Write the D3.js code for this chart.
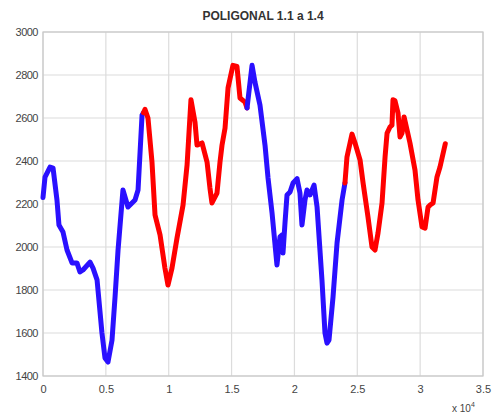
<!DOCTYPE html>
<html>
<head>
<meta charset="utf-8">
<script src="https://cdn.jsdelivr.net/npm/d3@7"></script>
<style>
  body { margin: 0; background: #fff; }
  text { font-family: "Liberation Sans", Arial, sans-serif; }
</style>
</head>
<body>
<svg id="graph" width="492" height="416"></svg>
<script>
var title = "POLIGONAL 1.1 a 1.4";
var xTicks = [0, 5000, 10000, 15000, 20000, 25000, 30000, 35000];
var xTickLabels = ["0", "0.5", "1", "1.5", "2", "2.5", "3", "3.5"];
var yTicks = [1400, 1600, 1800, 2000, 2200, 2400, 2600, 2800, 3000];

// tramo 1 (azul)
var x1 = [0, 160, 560, 800, 1110, 1270, 1590, 1910, 2310, 2700, 2940, 3180, 3740, 3980, 4300, 4690, 4930, 5170, 5490, 5730, 5970, 6360, 6760, 7320, 7560, 7880, 8000];
var y1 = [2230, 2325, 2372, 2367, 2219, 2102, 2070, 1986, 1926, 1926, 1884, 1893, 1930, 1902, 1847, 1600, 1484, 1465, 1567, 1767, 1986, 2265, 2186, 2219, 2265, 2614, 2625];
// tramo 2 (rojo)
var x2 = [8000, 8110, 8350, 8670, 8910, 9310, 9700, 9940, 10260, 10660, 11140, 11460, 11770, 12090, 12250, 12650, 13050, 13280, 13440, 13840, 14080, 14240, 14480, 14720, 15110, 15430, 15670, 16070, 16230];
var y2 = [2625, 2640, 2600, 2395, 2149, 2056, 1902, 1823, 1902, 2042, 2195, 2381, 2685, 2581, 2474, 2484, 2395, 2274, 2205, 2251, 2395, 2474, 2553, 2740, 2845, 2840, 2693, 2674, 2647];
// tramo 3 (azul)
var x3 = [16230, 16630, 16860, 17260, 17660, 17900, 18220, 18610, 18850, 19010, 19090, 19250, 19410, 19650, 19890, 20210, 20440, 20600, 20840, 21000, 21240, 21560, 21800, 22190, 22430, 22590, 22750, 23070, 23390, 23790, 24020];
var y3 = [2647, 2845, 2767, 2660, 2474, 2321, 2158, 1916, 2047, 2056, 1972, 2112, 2242, 2256, 2298, 2318, 2251, 2102, 2219, 2265, 2242, 2288, 2186, 1847, 1600, 1553, 1567, 1767, 2019, 2219, 2298];
// tramo 4 (rojo)
var x4 = [24020, 24180, 24580, 24820, 25220, 25460, 25850, 26170, 26410, 26650, 26970, 27210, 27370, 27600, 27760, 27840, 28000, 28240, 28400, 28560, 28720, 28960, 29190, 29590, 29830, 30150, 30390, 30630, 30790, 31030, 31340, 31580, 32000];
var y4 = [2298, 2419, 2525, 2484, 2405, 2298, 2140, 2000, 1986, 2065, 2205, 2419, 2530, 2558, 2567, 2685, 2680, 2623, 2512, 2530, 2605, 2544, 2484, 2358, 2219, 2093, 2088, 2186, 2195, 2205, 2326, 2372, 2480];

var tramos = [
  {x: x1, y: y1, color: "#2a10ff"},
  {x: x2, y: y2, color: "#ff0000"},
  {x: x3, y: y3, color: "#2a10ff"},
  {x: x4, y: y4, color: "#ff0000"}
];

var mLeft = 43, mRight = 483, mTop = 32, mBottom = 376;
var xScale = d3.scaleLinear().domain([0, 35000]).range([mLeft, mRight]);
var yScale = d3.scaleLinear().domain([1400, 3000]).range([mBottom, mTop]);

var svg = d3.select("svg#graph");

// rejilla
svg.append("g")
   .selectAll("line.xgrid")
   .data(xTicks)
   .enter()
   .append("line")
   .attr("class", "xgrid")
   .attr("x1", function(d){ return xScale(d); })
   .attr("x2", function(d){ return xScale(d); })
   .attr("y1", yScale(1400))
   .attr("y2", yScale(3000))
   .attr("stroke", "#dcdcdc")
   .attr("stroke-width", 1.2);
svg.append("g")
   .selectAll("line.ygrid")
   .data(yTicks)
   .enter()
   .append("line")
   .attr("class", "ygrid")
   .attr("x1", xScale(0))
   .attr("x2", xScale(35000))
   .attr("y1", function(d){ return yScale(d); })
   .attr("y2", function(d){ return yScale(d); })
   .attr("stroke", "#dcdcdc")
   .attr("stroke-width", 1.2);

svg.append("rect")
   .attr("x", mLeft)
   .attr("y", mTop)
   .attr("width", mRight - mLeft)
   .attr("height", mBottom - mTop)
   .attr("fill", "none")
   .attr("stroke", "#c8c8c8")
   .attr("stroke-width", 1.2);

// ejes
var xAxis = d3.axisBottom(xScale)
  .tickValues(xTicks)
  .tickFormat(function(d, i){ return xTickLabels[i]; })
  .tickSize(0)
  .tickPadding(9);
svg.append("g")
   .attr("transform", "translate(0," + mBottom + ")")
   .call(xAxis)
   .call(function(g){ g.select(".domain").remove(); })
   .selectAll("text")
   .attr("font-size", 11)
   .attr("fill", "#444");

var yAxis = d3.axisLeft(yScale)
  .tickValues(yTicks)
  .tickFormat(d3.format("d"))
  .tickSize(0)
  .tickPadding(5);
svg.append("g")
   .attr("transform", "translate(" + mLeft + ",0)")
   .call(yAxis)
   .call(function(g){ g.select(".domain").remove(); })
   .selectAll("text")
   .attr("font-size", 11)
   .attr("letter-spacing", -0.5)
   .attr("fill", "#444");

// x 10^4
var mult = svg.append("text")
   .attr("x", 452)
   .attr("y", 412)
   .attr("font-size", 10)
   .attr("fill", "#444");
mult.append("tspan").text("x 10");
mult.append("tspan").attr("dy", -5).attr("font-size", 7).text("4");

// titulo
svg.append("text")
   .attr("x", (mLeft + mRight) / 2)
   .attr("y", 20)
   .attr("text-anchor", "middle")
   .attr("font-size", 12)
   .attr("font-weight", "bold")
   .attr("fill", "#333")
   .text(title);

// tramos
var line = d3.line()
  .x(function(d){ return xScale(d[0]); })
  .y(function(d){ return yScale(d[1]); });

for(var t=0; t<tramos.length; t++){
  var pts = tramos[t].x.map(function(v, i){ return [v, tramos[t].y[i]]; });
  svg.append("path")
     .attr("d", line(pts))
     .attr("fill", "none")
     .attr("stroke", tramos[t].color)
     .attr("stroke-width", 5)
     .attr("stroke-linejoin", "round")
     .attr("stroke-linecap", "round");
}
</script>
</body>
</html>
